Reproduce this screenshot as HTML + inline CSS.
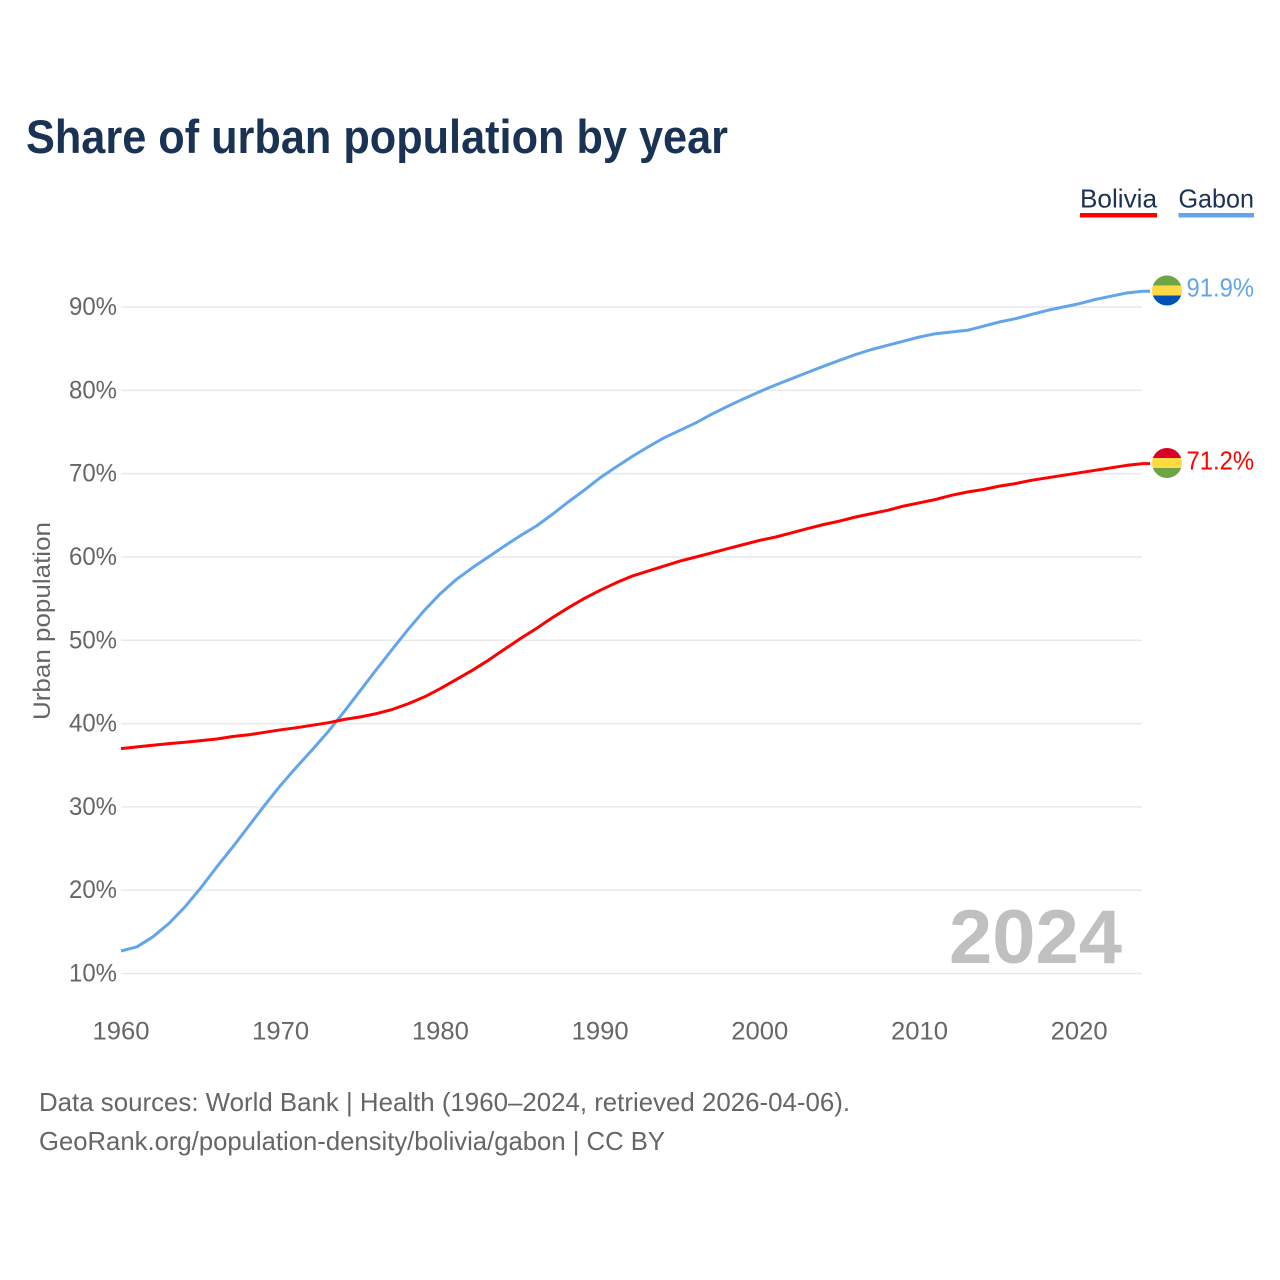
<!DOCTYPE html>
<html lang="en">
<head>
<meta charset="utf-8">
<title>Share of urban population by year</title>
<style>
html,body{margin:0;padding:0;background:#fff;width:1280px;height:1280px;overflow:hidden}
svg{display:block}
text{font-family:"Liberation Sans",sans-serif}
</style>
</head>
<body>
<svg id="chart" width="1280" height="1280" viewBox="0 0 1280 1280" xmlns="http://www.w3.org/2000/svg">
  <defs>
    <clipPath id="clip-gabon"><circle cx="1167" cy="290.5" r="15"/></clipPath>
    <clipPath id="clip-bolivia"><circle cx="1167" cy="463" r="15"/></clipPath>
  </defs>
  <text x="26" y="153" font-size="47" font-weight="700" fill="#1a3253" textLength="702" lengthAdjust="spacingAndGlyphs">Share of urban population by year</text>

  <g>
    <g>
      <text x="1080" y="207.5" font-size="26" fill="#1a3253" textLength="77" lengthAdjust="spacingAndGlyphs">Bolivia</text>
      <rect x="1080" y="213" width="77" height="4.5" fill="#ff0000"/>
    </g>
    <g>
      <text x="1178.5" y="207.5" font-size="26" fill="#1a3253" textLength="75.5" lengthAdjust="spacingAndGlyphs">Gabon</text>
      <rect x="1178.5" y="213" width="75.5" height="4.5" fill="#62a5ea"/>
    </g>
  </g>

  <g id="grid"></g>
  <g id="yticks"></g>
  <g id="xticks"></g>
  <text transform="translate(50,621) rotate(-90)" text-anchor="middle" font-size="24" fill="#666" textLength="198" lengthAdjust="spacingAndGlyphs">Urban population</text>

  <text x="1122" y="963" text-anchor="end" font-size="76" font-weight="700" fill="#c0c0c0" textLength="173" lengthAdjust="spacingAndGlyphs">2024</text>

  <g id="series"></g>

  <g clip-path="url(#clip-gabon)">
    <rect x="1152" y="275" width="30" height="10.5" fill="#6da544"/>
    <rect x="1152" y="285.5" width="30" height="10" fill="#ffda44"/>
    <rect x="1152" y="295.5" width="30" height="11" fill="#0052b4"/>
  </g>
  <g clip-path="url(#clip-bolivia)">
    <rect x="1152" y="448" width="30" height="10" fill="#d80027"/>
    <rect x="1152" y="458" width="30" height="10" fill="#ffda44"/>
    <rect x="1152" y="468" width="30" height="10" fill="#6da544"/>
  </g>
  <text id="label-gabon" x="1254" y="296.5" text-anchor="end" font-size="26" fill="#62a5ea" textLength="67.5" lengthAdjust="spacingAndGlyphs"></text>
  <text id="label-bolivia" x="1254" y="469.5" text-anchor="end" font-size="26" fill="#ff0000" textLength="67.5" lengthAdjust="spacingAndGlyphs"></text>

  <text x="39" y="1111" font-size="26" fill="#666" textLength="811" lengthAdjust="spacingAndGlyphs">Data sources: World Bank | Health (1960–2024, retrieved 2026-04-06).</text>
  <text x="39" y="1150" font-size="26" fill="#666" textLength="626" lengthAdjust="spacingAndGlyphs">GeoRank.org/population-density/bolivia/gabon | CC BY</text>
</svg>
<script>
var startYear = 1960;
var gabon = [12.7,13.2,14.4,16.0,18.0,20.3,22.8,25.2,27.7,30.2,32.6,34.8,36.9,39.1,41.5,44.0,46.5,48.95,51.35,53.6,55.6,57.3,58.7,60.0,61.3,62.55,63.7,65.1,66.6,68.0,69.5,70.8,72.05,73.2,74.3,75.2,76.1,77.15,78.1,79.0,79.85,80.65,81.4,82.15,82.9,83.6,84.3,84.9,85.4,85.9,86.4,86.8,87.0,87.2,87.7,88.2,88.6,89.1,89.6,90.0,90.4,90.9,91.3,91.7,91.9];
var bolivia = [37.0,37.2,37.4,37.6,37.75,37.95,38.15,38.45,38.65,38.95,39.25,39.5,39.8,40.1,40.5,40.8,41.2,41.7,42.4,43.2,44.2,45.3,46.4,47.6,48.9,50.2,51.4,52.7,53.9,55.0,56.0,56.9,57.7,58.3,58.9,59.5,60.0,60.5,61.0,61.5,62.0,62.4,62.9,63.4,63.9,64.3,64.8,65.2,65.6,66.1,66.5,66.9,67.4,67.8,68.1,68.5,68.8,69.2,69.5,69.8,70.1,70.4,70.7,71.0,71.2];
var yTicks = [10,20,30,40,50,60,70,80,90];
var xTicks = [1960,1970,1980,1990,2000,2010,2020];

var NS = 'http://www.w3.org/2000/svg';
function xScale(year){ return 121 + (year - 1960) * 15.97; }
function yScale(pct){ return 973.5 - (pct - 10) * 8.331; }
function make(tag, attrs, parent){
  var el = document.createElementNS(NS, tag);
  for (var k in attrs) el.setAttribute(k, attrs[k]);
  parent.appendChild(el);
  return el;
}
var grid = document.getElementById('grid');
var yG = document.getElementById('yticks');
var xG = document.getElementById('xticks');
var seriesG = document.getElementById('series');

yTicks.forEach(function(t){
  var line = make('line', {x1:121, x2:1142, y1:yScale(t), y2:yScale(t), stroke:'#e9e9e9', 'stroke-width':1.5}, grid);
  
  
  var label = make('text', {x:117, y:yScale(t)+8, 'text-anchor':'end', 'font-size':25, fill:'#666', textLength:48, lengthAdjust:'spacingAndGlyphs'}, yG);
  
  
  label.textContent = t + '%';
});
xTicks.forEach(function(t){
  var label = make('text', {x:xScale(t), y:1039.5, 'text-anchor':'middle', 'font-size':25, fill:'#666', textLength:57, lengthAdjust:'spacingAndGlyphs'}, xG);
  
  
  label.textContent = t;
});
function drawSeries(values, color){
  var pts = values.map(function(v, i){ return xScale(startYear + i).toFixed(1) + ',' + yScale(v).toFixed(1); });
  var last = values[values.length - 1];
  pts.push('1150,' + yScale(last).toFixed(1));
  return make('polyline', {points:pts.join(' '), fill:'none', stroke:color, 'stroke-width':3, 'stroke-linejoin':'round'}, seriesG);
}
var gabonLine = drawSeries(gabon, '#62a5ea');


var boliviaLine = drawSeries(bolivia, '#ff0000');


document.getElementById('label-gabon').textContent = gabon[gabon.length - 1].toFixed(1) + '%';
document.getElementById('label-bolivia').textContent = bolivia[bolivia.length - 1].toFixed(1) + '%';
</script>
</body>
</html>
